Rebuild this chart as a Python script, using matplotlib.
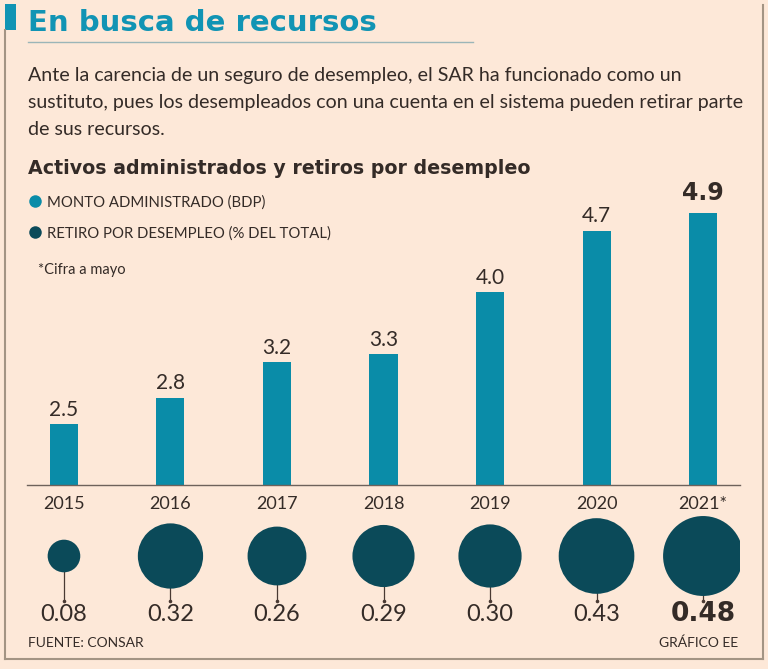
"""
En busca de recursos - activos administrados y retiros por desempleo (SAR)
Run: python plot.py  -> out.png
"""

import numpy as np
import matplotlib
matplotlib.use("Agg")
import matplotlib.pyplot as plt

W, H, DPI = 768, 669, 100

# --- data ---
years = ["2015", "2016", "2017", "2018", "2019", "2020", "2021*"]
monto = [2.5, 2.8, 3.2, 3.3, 4.0, 4.7, 4.9]          # BDP
retiro = [0.08, 0.32, 0.26, 0.29, 0.30, 0.43, 0.48]  # % del total
highlight = len(years) - 1

BG = "#fde8d8"
TEAL = "#0a8ca8"
TITLE_TEAL = "#1194b4"
DARK_TEAL = "#0b4a59"
TXT = "#342b27"
FRAME = "#a39484"

LIGHT = dict(family="Lato", weight="normal")
HEAVY = dict(family="DejaVu Sans", weight="bold")


def px(x, y):
    """pixel (from top-left) -> figure fraction"""
    return x / W, 1 - y / H


fig = plt.figure(figsize=(W / DPI, H / DPI), dpi=DPI, facecolor=BG)

# overlay axes in pixel coords for frame and texts
deco = fig.add_axes([0, 0, 1, 1])
deco.set_xlim(0, W)
deco.set_ylim(H, 0)
deco.axis("off")

deco.plot([5, 5], [30, 659], color=FRAME, lw=1.5)
deco.plot([5, 763], [659, 659], color=FRAME, lw=1.5)
deco.plot([763, 763], [5, 659], color=FRAME, lw=1.5)
deco.add_patch(plt.Rectangle((4.5, 4), 11, 26, color=TITLE_TEAL, lw=0))
deco.plot([28, 473], [42, 42], color="#9bb5b8", lw=1)

deco.text(28, 31, "En busca de recursos", fontsize=21, color=TITLE_TEAL, **HEAVY)

para = [
    "Ante la carencia de un seguro de desempleo, el SAR ha funcionado como un",
    "sustituto, pues los desempleados con una cuenta en el sistema pueden retirar parte",
    "de sus recursos.",
]
for i, line in enumerate(para):
    deco.text(28, 81 + 27 * i, line, fontsize=14.1, color=TXT, **LIGHT)

deco.text(28, 174, "Activos administrados y retiros por desempleo",
          fontsize=13.7, color=TXT, **HEAVY)

deco.plot([35], [201], "o", ms=9, color=TEAL, mec="none")
deco.plot([35], [232], "o", ms=9, color=DARK_TEAL, mec="none")
deco.text(47, 207, "MONTO ADMINISTRADO (BDP)", fontsize=10.7, color=TXT, **LIGHT)
deco.text(47, 238, "RETIRO POR DESEMPLEO (% DEL TOTAL)", fontsize=10.7, color=TXT, **LIGHT)
deco.text(38, 274, "*Cifra a mayo", fontsize=10.5, color=TXT, **LIGHT)

deco.text(28, 647, "FUENTE: CONSAR", fontsize=10, color=TXT, **LIGHT)
deco.text(738, 647, "GRÁFICO EE", fontsize=10, color=TXT, ha="right", **LIGHT)

# --- bars ---
x = np.arange(len(years))
xlim = (-0.347, len(years) - 1 + 0.347)
ax_l, ax_r = 27, 740
base_px, top_px = 485, 180
px_per_unit = 87.9
ybase = 1.806

l, b = px(ax_l, base_px)
ax = fig.add_axes([l, b, (ax_r - ax_l) / W, (base_px - top_px) / H])
ax.set_facecolor("none")
ax.bar(x, monto, width=0.263, bottom=0, color=TEAL, zorder=2)
ax.set_xlim(*xlim)
ax.set_ylim(ybase, ybase + (base_px - top_px) / px_per_unit)
for s in ["top", "right", "left"]:
    ax.spines[s].set_visible(False)
ax.spines["bottom"].set_color("#6e625b")
ax.spines["bottom"].set_linewidth(1)
ax.set_yticks([])
ax.set_xticks(x)
ax.set_xticklabels(years, fontsize=13, color=TXT, **LIGHT)
ax.tick_params(axis="x", length=0, pad=8)

for i, v in enumerate(monto):
    if i == highlight:
        ax.annotate(f"{v:.1f}", (x[i], v), xytext=(0, 6), textcoords="offset points",
                    ha="center", va="bottom", fontsize=17, color=TXT, **HEAVY)
    else:
        ax.annotate(f"{v:.1f}", (x[i], v), xytext=(0, 3), textcoords="offset points",
                    ha="center", va="bottom", fontsize=15, color=TXT, **LIGHT)

# --- bubbles (area ~ value) ---
b_top, b_bot = 505, 640
l, b = px(ax_l, b_bot)
bx = fig.add_axes([l, b, (ax_r - ax_l) / W, (b_bot - b_top) / H])
bx.set_xlim(*xlim)
bx.set_ylim(b_bot, b_top)
bx.axis("off")

circle_y, stem_end, label_y = 556, 601, 621
bx.vlines(x, circle_y, stem_end, color="#4a3a33", lw=0.9, zorder=1)
bx.scatter(x, [stem_end] * len(x), s=2.5, color="#4a3a33", zorder=1)
bx.scatter(x, [circle_y] * len(x), s=np.array(retiro) * 6900, color=DARK_TEAL,
           edgecolors="none", zorder=2)
for i, v in enumerate(retiro):
    style = HEAVY if i == highlight else LIGHT
    size = 19 if i == highlight else 17
    bx.text(x[i], label_y, f"{v:.2f}", ha="center", va="baseline",
            fontsize=size, color=TXT, **style)

fig.savefig("out.png", dpi=DPI, facecolor=BG)
